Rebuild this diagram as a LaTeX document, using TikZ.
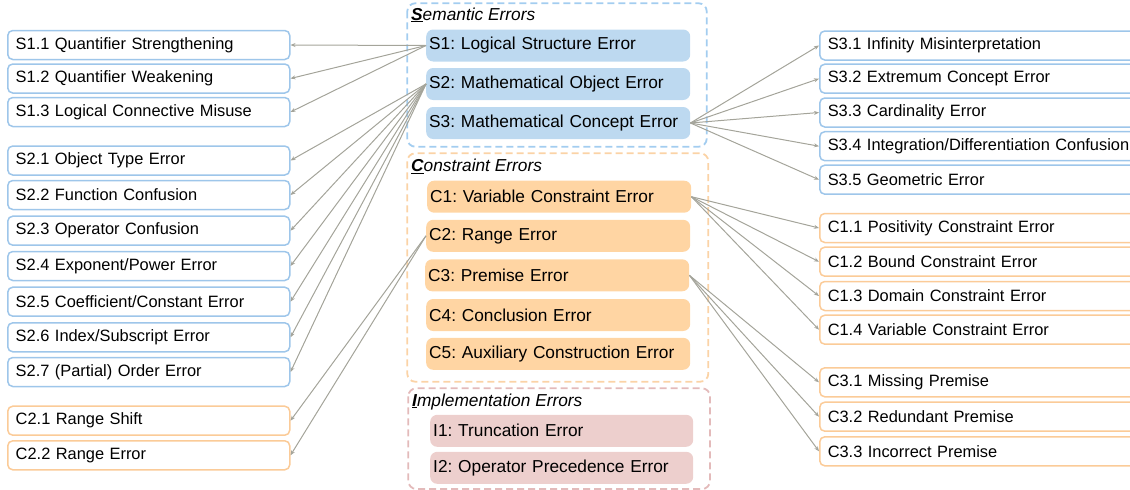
\documentclass[tikz,border=0pt]{standalone}
\usepackage{fontspec}
\setmainfont{Liberation Sans}
\frenchspacing
\usetikzlibrary{arrows.meta}
\definecolor{semfill}{HTML}{BDD9F0}
\definecolor{semframe}{HTML}{A3CDF0}
\definecolor{semleaf}{HTML}{9EC6EA}
\definecolor{confill}{HTML}{FFD5A3}
\definecolor{conframe}{HTML}{FBD3A6}
\definecolor{conleaf}{HTML}{FBCB98}
\definecolor{impfill}{HTML}{EDCFCD}
\definecolor{impframe}{HTML}{E3BABA}
\definecolor{conngray}{HTML}{A4A49A}
\tikzset{
  leafbox/.style={draw, line width=1.5pt, rounded corners=5pt, fill=white,
    minimum height=29pt, text width=266pt, inner xsep=8pt, inner ysep=0pt,
    align=left, anchor=west, font=\fontsize{16.4}{19}\selectfont},
  leafS/.style={leafbox, draw=semleaf},
  leafC/.style={leafbox, draw=conleaf},
  rleafS/.style={leafS, text width=305pt},
  rleafC/.style={leafC, text width=305pt},
  midbox/.style={rounded corners=7pt, minimum height=32pt, text width=258pt,
    inner xsep=3pt, inner ysep=0pt, align=left, anchor=west,
    font=\fontsize{17.3}{20}\selectfont},
  midS/.style={midbox, fill=semfill},
  midC/.style={midbox, fill=confill},
  midI/.style={midbox, fill=impfill, text width=257pt},
  grpframe/.style={dash pattern=on 7pt off 4pt, line width=1.8pt, rounded corners=8pt},
  grptitle/.style={anchor=base west, inner sep=2pt, font=\fontsize{17.3}{20}\selectfont\itshape},
  conn/.style={draw=conngray, line width=1pt, -{Stealth[length=5pt,width=4pt]}}
}
\begin{document}
\begin{tikzpicture}[x=1pt,y=-1pt]
\useasboundingbox (0,0) rectangle (1130,490);
\clip (0,0) rectangle (1130,490);

% group frames
\draw[grpframe, draw=semframe] (407.3,3.3) rectangle (706.7,146.7);
\draw[grpframe, draw=conframe] (407.3,153.3) rectangle (708.3,381.7);
\draw[grpframe, draw=impframe] (408.3,388.3) rectangle (710,489);

\node[grptitle] (tS) at (409,20) {\textbf{\underline{S}}emantic Errors};
\node[grptitle] (tC) at (409,171.7) {\textbf{\underline{C}}onstraint Errors};
\node[grptitle] (tI) at (410,406) {\textbf{\underline{I}}mplementation Errors};

% middle boxes
\node[midS] (s1) at (426,45.5) {S1: Logical Structure Error};
\node[midS] (s2) at (426,84) {S2: Mathematical Object Error};
\node[midS] (s3) at (426,123) {S3: Mathematical Concept Error};

\node[midC] (c1) at (427,196.7) {C1: Variable Constraint Error};
\node[midC] (c2) at (426,235.8) {C2: Range Error};
\node[midC] (c3) at (425,275.3) {C3: Premise Error};
\node[midC] (c4) at (426,315) {C4: Conclusion Error};
\node[midC] (c5) at (426,353.8) {C5: Auxiliary Construction Error};

\node[midI] (i1) at (430,430.8) {I1: Truncation Error};
\node[midI] (i2) at (430,467.8) {I2: Operator Precedence Error};

% left leaves
\node[leafS] (s11) at (7,45) {S1.1 Quantifier Strengthening};
\node[leafS] (s12) at (7,78.5) {S1.2 Quantifier Weakening};
\node[leafS] (s13) at (7,112) {S1.3 Logical Connective Misuse};
\node[leafS] (s21) at (7,160.5) {S2.1 Object Type Error};
\node[leafS] (s22) at (7,195) {S2.2 Function Confusion};
\node[leafS] (s23) at (7,230.7) {S2.3 Operator Confusion};
\node[leafS] (s24) at (7,266) {S2.4 Exponent/Power Error};
\node[leafS] (s25) at (7,301.7) {S2.5 Coefficient/Constant Error};
\node[leafS] (s26) at (7,337.3) {S2.6 Index/Subscript Error};
\node[leafS] (s27) at (7,372) {S2.7 (Partial) Order Error};
\node[leafC] (c21) at (7,420.7) {C2.1 Range Shift};
\node[leafC] (c22) at (7,455.3) {C2.2 Range Error};

% right leaves
\node[rleafS] (s31) at (819,45.5) {S3.1 Infinity Misinterpretation};
\node[rleafS] (s32) at (819,78.7) {S3.2 Extremum Concept Error};
\node[rleafS] (s33) at (819,112.5) {S3.3 Cardinality Error};
\node[rleafS] (s34) at (819,146.2) {S3.4 Integration/Differentiation Confusion};
\node[rleafS] (s35) at (819,179.7) {S3.5 Geometric Error};
\node[rleafC] (c11) at (819,228) {C1.1 Positivity Constraint Error};
\node[rleafC] (c12) at (819,261.7) {C1.2 Bound Constraint Error};
\node[rleafC] (c13) at (819,296) {C1.3 Domain Constraint Error};
\node[rleafC] (c14) at (819,329.7) {C1.4 Variable Constraint Error};
\node[rleafC] (c31) at (819,382.3) {C3.1 Missing Premise};
\node[rleafC] (c32) at (819,416.7) {C3.2 Redundant Premise};
\node[rleafC] (c33) at (819,451.3) {C3.3 Incorrect Premise};

% connectors
\foreach \t in {s11,s12,s13} \draw[conn] (s1.west) -- (\t.east);
\foreach \t in {s21,s22,s23,s24,s25,s26,s27} \draw[conn] (s2.west) -- (\t.east);
\foreach \t in {c21,c22} \draw[conn] (c2.west) -- (\t.east);
\foreach \t in {s31,s32,s33,s34,s35} \draw[conn] (s3.east) -- (\t.west);
\foreach \t in {c11,c12,c13,c14} \draw[conn] (c1.east) -- (\t.west);
\foreach \t in {c31,c32,c33} \draw[conn] (c3.east) -- (\t.west);
\end{tikzpicture}
\end{document}
